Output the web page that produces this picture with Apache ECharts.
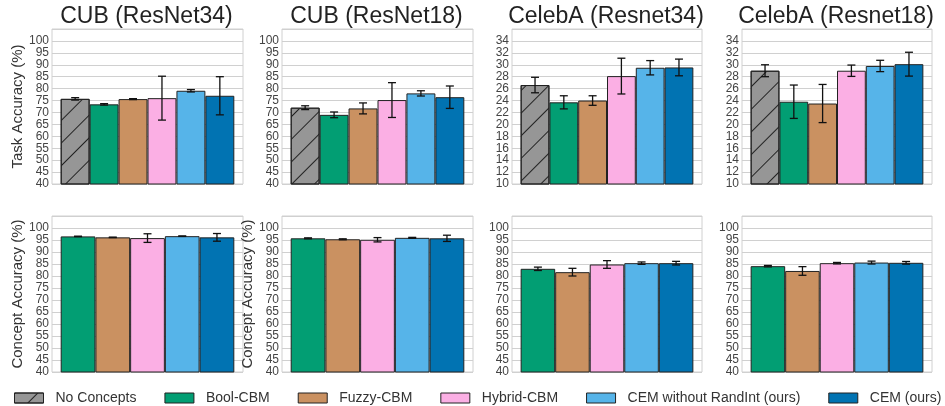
<!DOCTYPE html>
<html><head><meta charset="utf-8">
<script src="https://cdn.jsdelivr.net/npm/echarts@6/dist/echarts.min.js"></script>
<style>html,body{margin:0;padding:0;background:#fff}#c{width:945px;height:406px}</style>
</head><body><div id="c"></div>
<script>
const methods = ['No Concepts','Bool-CBM','Fuzzy-CBM','Hybrid-CBM','CEM without RandInt (ours)','CEM (ours)'];
const conceptMethods = ['Bool-CBM','Fuzzy-CBM','Hybrid-CBM','CEM without RandInt (ours)','CEM (ours)'];
const titles = ['CUB (ResNet34)','CUB (ResNet18)','CelebA (Resnet34)','CelebA (Resnet18)'];

const taskCubR34 = [75.7, 73.4, 75.6, 76.0, 79.1, 77.0];
const taskCubR34Err = [0.5, 0.3, 0.2, 9.2, 0.5, 8.0];
const taskCubR18 = [72.0, 69.0, 71.7, 75.2, 78.0, 76.4];
const taskCubR18Err = [0.8, 1.2, 2.3, 7.3, 1.1, 4.7];
const taskCelebR34 = [26.6, 23.7, 24.0, 28.1, 29.5, 29.55];
const taskCelebR34Err = [1.3, 1.1, 0.8, 3.0, 1.2, 1.4];
const taskCelebR18 = [29.0, 23.8, 23.5, 29.0, 29.8, 30.1];
const taskCelebR18Err = [1.0, 2.8, 3.2, 0.95, 0.95, 2.0];

const conceptCubR34 = [96.5, 96.1, 95.8, 96.6, 96.1];
const conceptCubR34Err = [0.1, 0.1, 1.8, 0.1, 1.6];
const conceptCubR18 = [95.7, 95.3, 95.1, 95.9, 95.7];
const conceptCubR18Err = [0.2, 0.2, 0.9, 0.2, 1.3];
const conceptCelebR34 = [83.0, 81.6, 84.8, 85.35, 85.35];
const conceptCelebR34Err = [0.7, 1.6, 1.6, 0.5, 0.75];
const conceptCelebR18 = [84.1, 82.1, 85.35, 85.6, 85.5];
const conceptCelebR18Err = [0.3, 1.8, 0.3, 0.6, 0.55];

const taskYTicks = {cub: [40, 105, 5], celeb: [10, 36, 2]};
const conceptYTicks = [40, 105, 5];

// styles
const colorOf = {
  'No Concepts': '#969696', 'Bool-CBM': '#029e73', 'Fuzzy-CBM': '#ca9161',
  'Hybrid-CBM': '#fbafe4', 'CEM without RandInt (ours)': '#56b4e9', 'CEM (ours)': '#0173b2'
};
const FONT = 'Liberation Sans, Arial, sans-serif';
const colLeft = [52, 282, 512, 742];
const colWidth = [191, 191, 190, 190];
const rowTop = [29, 216];
const rowHeight = [155, 156];

const panels = [
  {row:0,col:0,names:methods,vals:taskCubR34,errs:taskCubR34Err,y:taskYTicks.cub,yname:'Task Accuracy (%)'},
  {row:0,col:1,names:methods,vals:taskCubR18,errs:taskCubR18Err,y:taskYTicks.cub,yname:''},
  {row:0,col:2,names:methods,vals:taskCelebR34,errs:taskCelebR34Err,y:taskYTicks.celeb,yname:''},
  {row:0,col:3,names:methods,vals:taskCelebR18,errs:taskCelebR18Err,y:taskYTicks.celeb,yname:''},
  {row:1,col:0,names:conceptMethods,vals:conceptCubR34,errs:conceptCubR34Err,y:conceptYTicks,yname:'Concept Accuracy (%)'},
  {row:1,col:1,names:conceptMethods,vals:conceptCubR18,errs:conceptCubR18Err,y:conceptYTicks,yname:'Concept Accuracy (%)'},
  {row:1,col:2,names:conceptMethods,vals:conceptCelebR34,errs:conceptCelebR34Err,y:conceptYTicks,yname:''},
  {row:1,col:3,names:conceptMethods,vals:conceptCelebR18,errs:conceptCelebR18Err,y:conceptYTicks,yname:''}
];

const grid = [], xAxis = [], yAxis = [], series = [], title = [];
titles.forEach((t, c) => {
  title.push({text: t, left: colLeft[c] + colWidth[c] / 2 - 1, top: 5, padding: 0, textAlign: 'center',
    textStyle: {fontSize: 23, fontWeight: 'normal', color: '#222', fontFamily: FONT}});
});

panels.forEach((p, g) => {
  const n = p.names.length;
  const m = 0.05 * n;
  const w = colWidth[p.col];
  const barW = w / (n + 2 * m);
  grid.push({left: colLeft[p.col], top: rowTop[p.row], width: w, height: rowHeight[p.row],
    show: true, borderColor: '#d0d0d0', borderWidth: 1, backgroundColor: 'transparent'});
  xAxis.push({type: 'value', gridIndex: g, min: -0.5 - m, max: n - 0.5 + m,
    show: false, splitLine: {show: false}});
  yAxis.push({type: 'value', gridIndex: g, min: p.y[0], max: p.y[1], interval: p.y[2],
    axisLine: {show: false}, axisTick: {show: false},
    axisLabel: {showMaxLabel: false, fontSize: 12, color: '#444', margin: 3, fontFamily: FONT},
    splitLine: {show: true, lineStyle: {color: '#d0d0d0', width: 1}},
    name: p.yname, nameLocation: 'middle', nameGap: 26,
    nameTextStyle: {fontSize: 15, color: '#333', fontFamily: FONT}});
  p.names.forEach((nm, i) => {
    const s = {type: 'bar', name: nm, xAxisIndex: g, yAxisIndex: g,
      data: [[i, p.vals[i]]], barWidth: barW, barGap: '-100%',
      itemStyle: {color: colorOf[nm], borderColor: '#222', borderWidth: 1},
      emphasis: {disabled: true}, animation: false, z: 2};
    if (nm === 'No Concepts') {
      s.itemStyle.decal = {symbol: 'rect', symbolSize: 1, color: '#222',
        dashArrayX: [1, 0], dashArrayY: [1, 15], rotation: -Math.PI / 4};
    }
    series.push(s);
  });
  series.push({type: 'custom', xAxisIndex: g, yAxisIndex: g, z: 5, animation: false, silent: true,
    data: p.vals.map((v, i) => [i, v - p.errs[i], v + p.errs[i]]),
    renderItem: function (params, api) {
      const lo = api.coord([api.value(0), api.value(1)]);
      const hi = api.coord([api.value(0), api.value(2)]);
      const cw = 4;
      const st = {stroke: '#111', lineWidth: 1.3};
      return {type: 'group', children: [
        {type: 'line', shape: {x1: lo[0], y1: lo[1], x2: hi[0], y2: hi[1]}, style: st},
        {type: 'line', shape: {x1: lo[0] - cw, y1: lo[1], x2: lo[0] + cw, y2: lo[1]}, style: st},
        {type: 'line', shape: {x1: hi[0] - cw, y1: hi[1], x2: hi[0] + cw, y2: hi[1]}, style: st}
      ]};
    }});
});

const chart = echarts.init(document.getElementById('c'), null, {renderer: 'canvas'});
chart.setOption({
  animation: false,
  backgroundColor: '#fff',
  title: title,
  grid: grid, xAxis: xAxis, yAxis: yAxis, series: series,
  legend: {data: methods, left: 14, top: 391, width: 931, padding: 0, icon: 'rect',
    itemWidth: 29, itemHeight: 10, itemGap: 28, selectedMode: false,
    itemStyle: {borderColor: '#222', borderWidth: 1},
    textStyle: {fontSize: 14, color: '#333', fontFamily: FONT, padding: [0, 0, 0, 7]}}
});
</script></body></html>
